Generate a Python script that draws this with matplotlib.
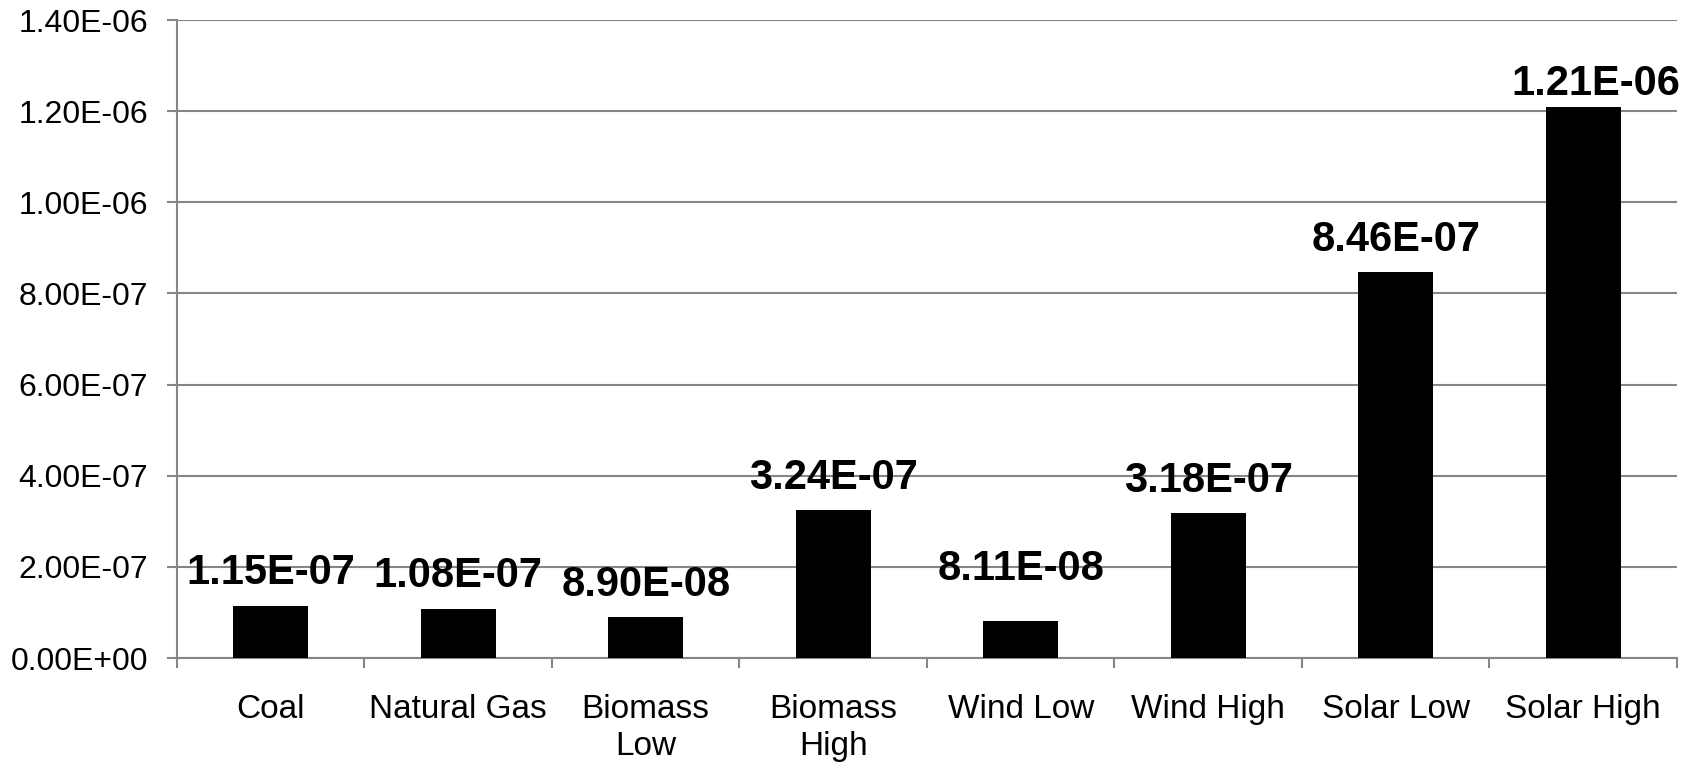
import matplotlib
matplotlib.use("Agg")
import matplotlib.pyplot as plt
import numpy as np
from matplotlib.ticker import FuncFormatter, FixedLocator

categories = ["Coal", "Natural Gas", "Biomass\nLow", "Biomass\nHigh", "Wind Low",
              "Wind High", "Solar Low", "Solar High"]
values = [1.15e-07, 1.08e-07, 8.90e-08, 3.24e-07, 8.11e-08, 3.18e-07, 8.46e-07, 1.21e-06]
value_labels = ["1.15E-07", "1.08E-07", "8.90E-08", "3.24E-07", "8.11E-08",
                "3.18E-07", "8.46E-07", "1.21E-06"]
y_ticks = [0, 2e-7, 4e-7, 6e-7, 8e-7, 1.0e-6, 1.2e-6, 1.4e-6]

plt.rcParams['font.family'] = ['Liberation Sans', 'DejaVu Sans']

W, H = 1699, 767
fig = plt.figure(figsize=(W / 100, H / 100), dpi=100)
ax = fig.add_axes([177 / W, 1 - 658 / H, (1677 - 177) / W, (658 - 20) / H])

grid_c = "#868686"
x = np.arange(len(categories))
ax.bar(x, values, width=0.4, color="black", zorder=3)

ax.set_xlim(-0.5, len(categories) - 0.5)
ax.set_ylim(0, 1.4e-6)
ax.set_yticks(y_ticks)
ax.yaxis.set_major_formatter(FuncFormatter(lambda v, p: f"{v:.2E}"))
ax.grid(axis="y", color=grid_c, linewidth=1.5, zorder=0)
ax.set_axisbelow(True)

for s in ["top", "right"]:
    ax.spines[s].set_visible(False)
for s in ["left", "bottom"]:
    ax.spines[s].set_color(grid_c)
    ax.spines[s].set_linewidth(1.5)

ax.tick_params(axis="y", direction="out", length=7, width=1.5, color=grid_c,
               labelsize=23, pad=14)
# category boundary ticks (major) and labels at centres (minor)
ax.xaxis.set_major_locator(FixedLocator(np.arange(-0.5, len(categories), 1.0)))
ax.xaxis.set_major_formatter(FuncFormatter(lambda v, p: ""))
ax.xaxis.set_minor_locator(FixedLocator(x))
ax.set_xticklabels(categories, minor=True, linespacing=1.25)
ax.tick_params(axis="x", which="major", direction="out", length=7, width=1.5, color=grid_c)
ax.tick_params(axis="x", which="minor", length=0, labelsize=24, pad=26)

extra_y = {4: 14, 7: -7}
extra_x = {7: 9}
for i, (v, lab) in enumerate(zip(values, value_labels)):
    off = 9 + extra_y.get(i, 0)
    ax.annotate(lab, (x[i], v), xytext=(extra_x.get(i, 0), off), textcoords="offset points",
                ha="center", va="bottom", fontsize=30, fontweight="bold",
                annotation_clip=False, zorder=4)

fig.savefig("out.png", dpi=100)
